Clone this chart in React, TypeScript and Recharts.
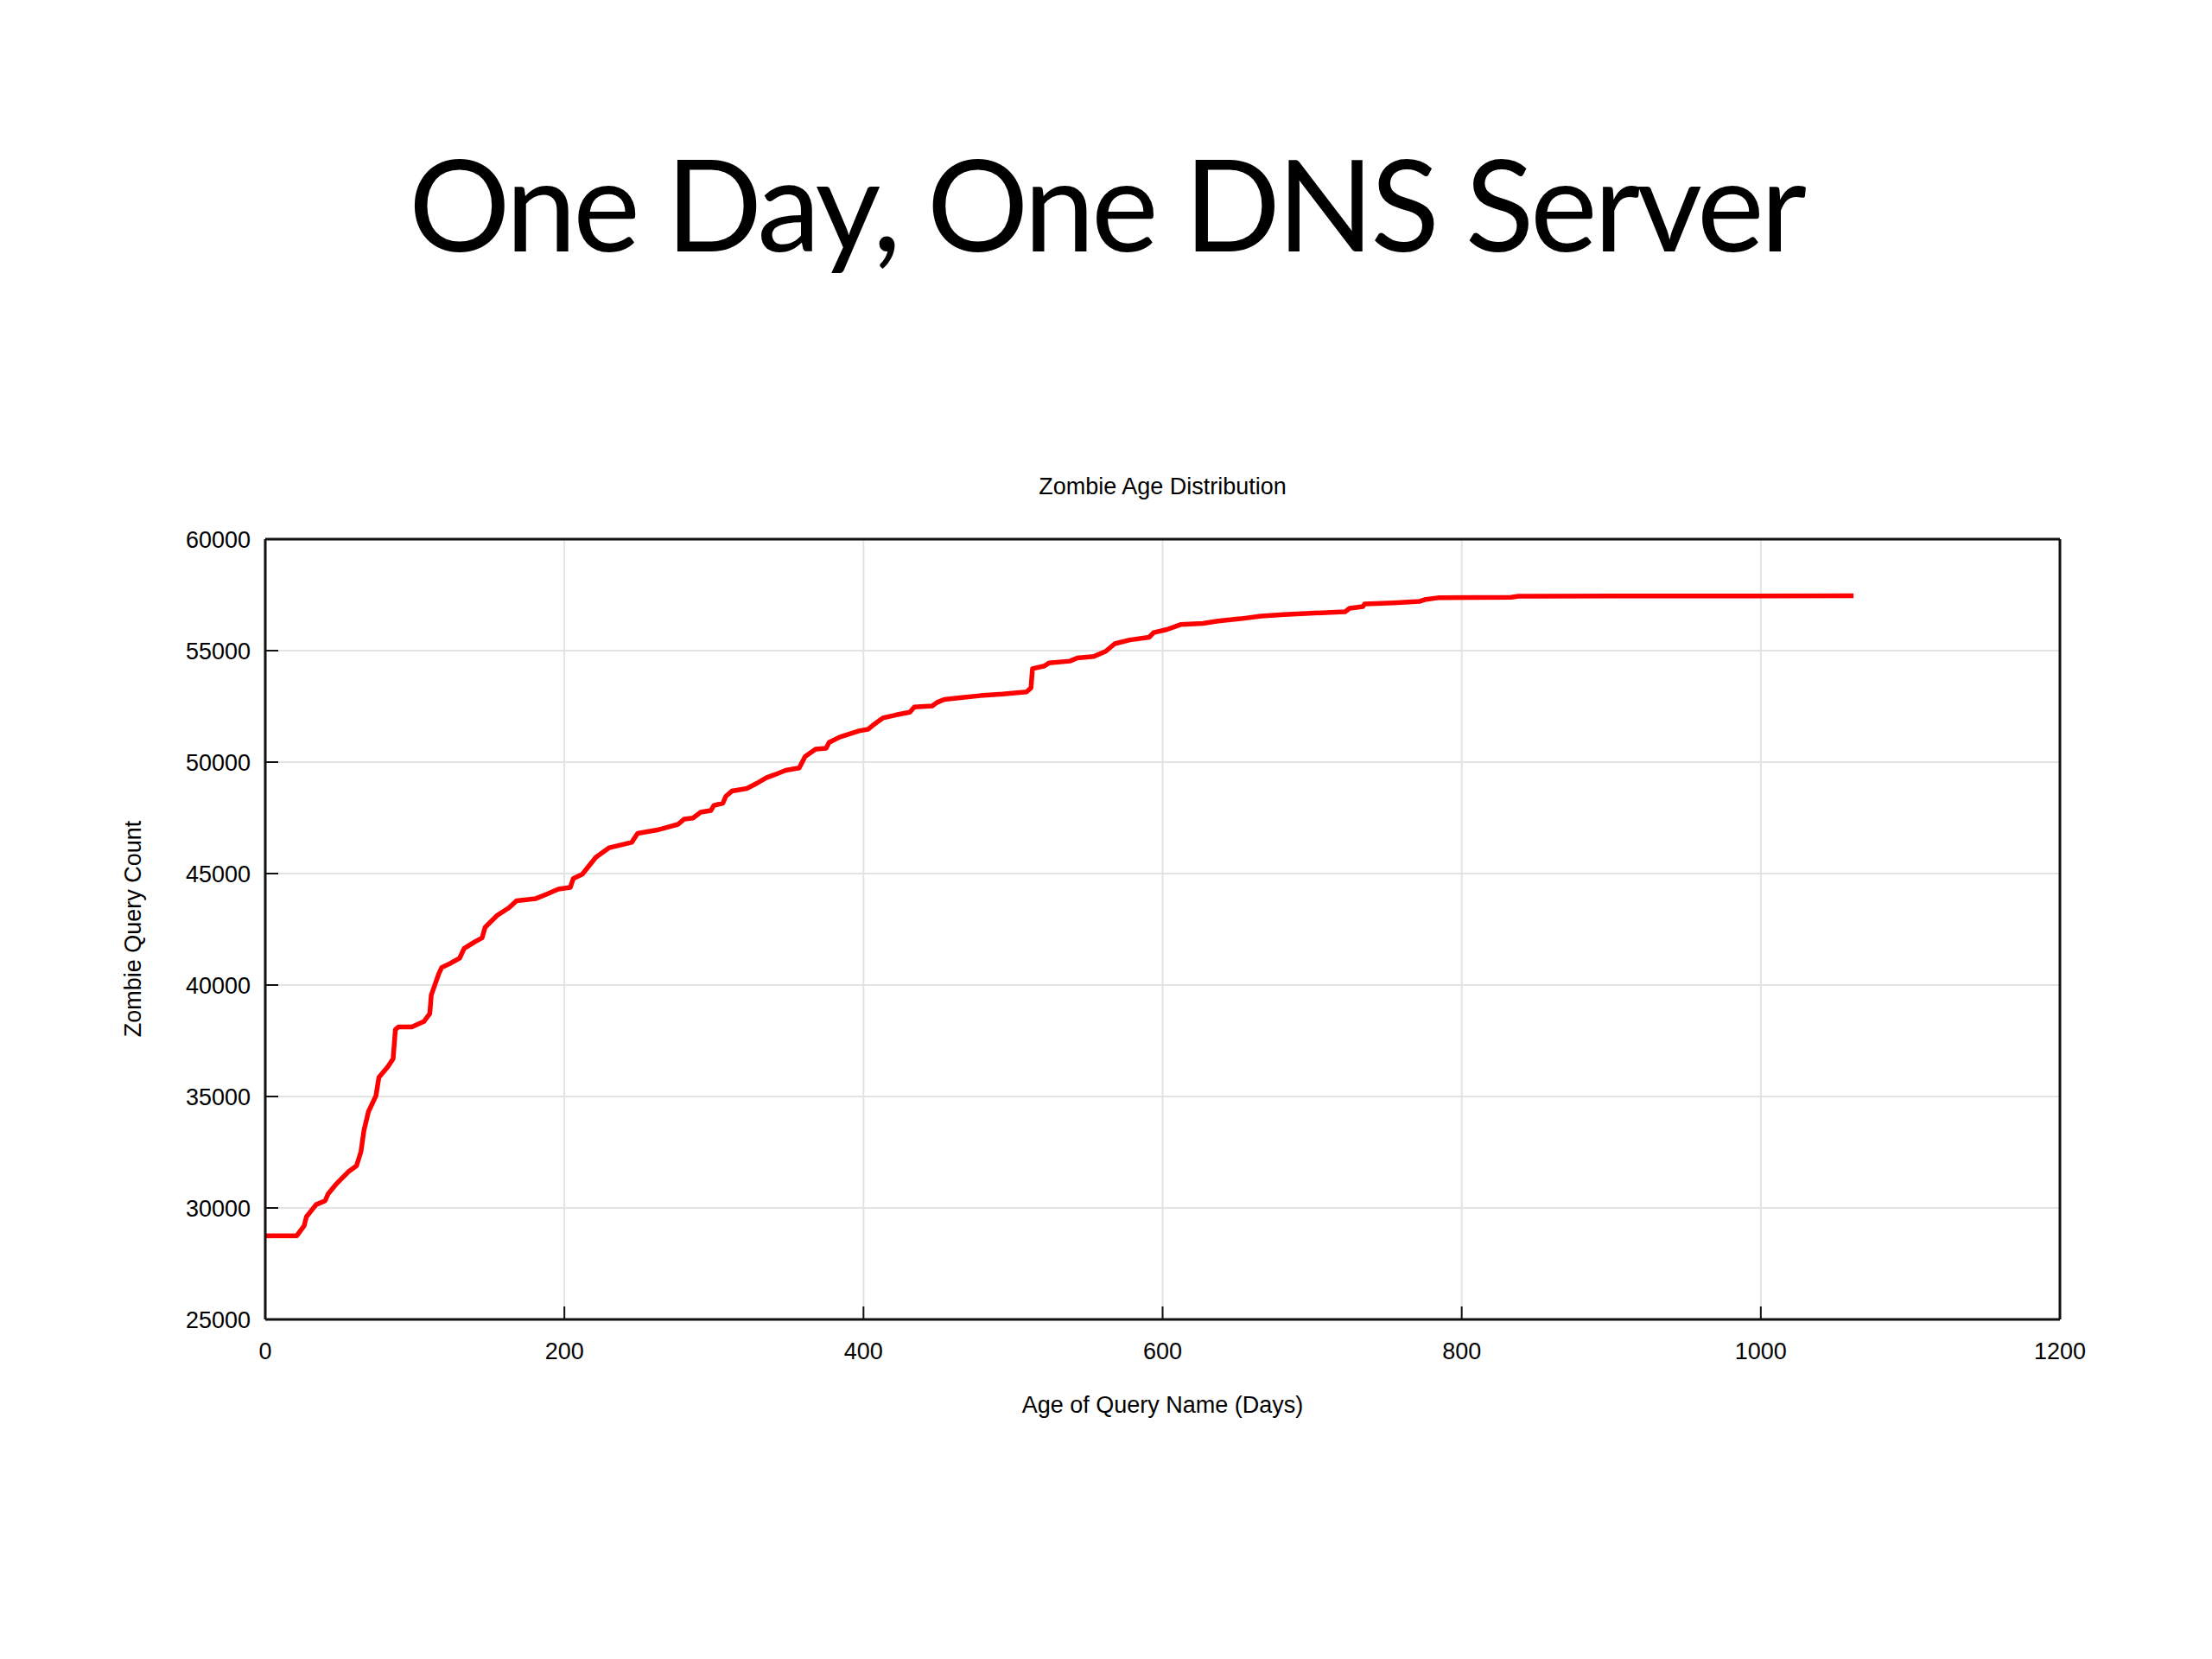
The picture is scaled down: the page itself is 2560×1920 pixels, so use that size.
import React from 'react';
import { LineChart, Line, XAxis, YAxis, CartesianGrid } from 'recharts';

const slideTitle = 'One Day, One DNS Server';
const chartTitle = 'Zombie Age Distribution';
const xAxisTitle = 'Age of Query Name (Days)';
const yAxisTitle = 'Zombie Query Count';

const xTicks = [0, 200, 400, 600, 800, 1000, 1200];
const yTicks = [25000, 30000, 35000, 40000, 45000, 50000, 55000, 60000];

const ageDays = [
  0, 21, 26, 27.5, 34, 40, 42, 47, 56, 61, 64, 66, 69, 74, 76, 82, 85.5, 87, 89, 98,
  106, 110, 111, 116, 118, 124, 130, 133, 140, 145, 147, 155, 163, 168, 181, 188, 196, 204, 206, 212,
  221, 225, 230, 245, 249, 263, 276, 280, 286, 291, 298, 300, 306, 308, 312, 322, 329, 335, 340, 348,
  357, 361, 368, 375, 377, 384, 397, 403, 407, 413, 422, 431, 434, 446, 449, 454, 466, 478, 493, 509,
  512, 513, 521, 524, 538, 543, 554, 562, 568, 578, 591, 594, 603, 612, 627, 637, 652, 666, 681, 696,
  722, 725, 734, 735, 754, 772, 776, 784, 833, 838, 900, 1062,
];

const queryCounts = [
  28750, 28750, 29200, 29600, 30150, 30320, 30630, 31040, 31650, 31890, 32530, 33480, 34320, 35030, 35860, 36340, 36700, 38000, 38120, 38120,
  38360, 38720, 39550, 40500, 40790, 40980, 41210, 41640, 41930, 42120, 42590, 43120, 43470, 43780, 43880, 44070, 44300, 44380, 44780, 44970,
  45730, 45920, 46160, 46400, 46800, 46970, 47210, 47440, 47490, 47750, 47830, 48060, 48160, 48470, 48700, 48820, 49060, 49300, 49420, 49630,
  49740, 50250, 50580, 50620, 50880, 51120, 51400, 51470, 51690, 51980, 52120, 52240, 52470, 52520, 52670, 52810, 52900, 52980, 53050, 53150,
  53330, 54190, 54310, 54450, 54530, 54670, 54740, 54970, 55310, 55480, 55600, 55810, 55950, 56170, 56220, 56330, 56430, 56550, 56620, 56670,
  56740, 56900, 56980, 57090, 57140, 57210, 57300, 57370, 57390, 57440, 57450, 57460,
];

const data = ageDays.map((d, i) => ({ day: d, count: queryCounts[i] }));

const AXIS_FONT = 'Liberation Sans, Arial, Helvetica, sans-serif';
const frameLine = { stroke: '#111', strokeWidth: 3 };
const tickLineStyle = { stroke: '#111', strokeWidth: 2 };
const tickText = { fill: '#000', fontSize: 27, fontFamily: AXIS_FONT };

export default function App() {
  return (
    <div style={{ position: 'absolute', left: 0, top: 0, width: 2560, height: 1920, background: '#fff' }}>
      <LineChart
        width={2560}
        height={1920}
        data={data}
        margin={{ top: 614, right: 166, bottom: 333, left: 207 }}
      >
        <CartesianGrid xAxisId="b" yAxisId="l" stroke="#e3e3e3" strokeWidth={2} />
        <XAxis
          xAxisId="b"
          dataKey="day"
          type="number"
          domain={[0, 1200]}
          ticks={xTicks}
          interval={0}
          orientation="bottom"
          height={60}
          tickSize={-15}
          tickMargin={42}
          axisLine={frameLine}
          tickLine={tickLineStyle}
          tick={tickText}
          allowDataOverflow
        />
        <XAxis
          xAxisId="t"
          dataKey="day"
          type="number"
          domain={[0, 1200]}
          ticks={xTicks}
          interval={0}
          orientation="top"
          height={10}
          tickSize={-15}
          axisLine={frameLine}
          tickLine={tickLineStyle}
          tick={false}
          allowDataOverflow
        />
        <YAxis
          yAxisId="l"
          type="number"
          domain={[25000, 60000]}
          ticks={yTicks}
          interval={0}
          width={100}
          tickSize={-15}
          tickMargin={32}
          axisLine={frameLine}
          tickLine={tickLineStyle}
          tick={tickText}
          allowDataOverflow
        />
        <YAxis
          yAxisId="r"
          orientation="right"
          type="number"
          domain={[25000, 60000]}
          ticks={yTicks}
          interval={0}
          width={10}
          tickSize={-15}
          axisLine={frameLine}
          tickLine={tickLineStyle}
          tick={false}
          allowDataOverflow
        />
        <Line
          xAxisId="b"
          yAxisId="l"
          type="linear"
          dataKey="count"
          stroke="#ff0000"
          strokeWidth={5.5}
          strokeLinejoin="round"
          dot={false}
          activeDot={false}
          isAnimationActive={false}
        />
      </LineChart>
      <svg
        width={2560}
        height={1920}
        style={{ position: 'absolute', left: 0, top: 0, pointerEvents: 'none' }}
      >
        <text
          x={1280}
          y={291}
          textAnchor="middle"
          fontFamily="Lato, sans-serif"
          fontSize={147}
          letterSpacing={-4}
          fill="#000"
        >
          {slideTitle}
        </text>
        <text x={1345.5} y={572} textAnchor="middle" fontFamily={AXIS_FONT} fontSize={27} fill="#000">
          {chartTitle}
        </text>
        <text x={1345.5} y={1635} textAnchor="middle" fontFamily={AXIS_FONT} fontSize={27} fill="#000">
          {xAxisTitle}
        </text>
        <text
          x={163}
          y={1075}
          textAnchor="middle"
          fontFamily={AXIS_FONT}
          fontSize={27}
          fill="#000"
          transform="rotate(-90 163 1075)"
        >
          {yAxisTitle}
        </text>
      </svg>
    </div>
  );
}
